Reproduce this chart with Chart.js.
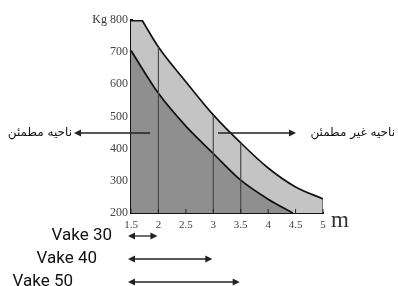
<!DOCTYPE html>
<html>
<head>
<meta charset="utf-8">
<script src="https://cdn.jsdelivr.net/npm/chart.js@4.4.1/dist/chart.umd.min.js"></script>
<style>
  html, body { margin: 0; padding: 0; background: #fff; }
  #wrap { width: 398px; height: 286px; position: relative; }
</style>
</head>
<body>
<div id="wrap"><canvas id="chart"></canvas></div>
<script>
// span in m vs load in Kg
var topX = [1.5, 1.7];
var topY = [800, 800];
var upperX = [1.7, 2, 2.5, 3, 3.5, 4, 4.5, 5];
var upperY = [800, 716, 608, 505, 418, 340, 281, 244];
var lowerX = [1.5, 2, 2.5, 3, 3.5, 4, 4.45];
var lowerY = [705, 572, 470, 385, 302, 243, 200];

// vertical guides drawn up to the upper curve
var guideX = [2, 3, 3.5, 5];

var xTicks = [1.5, 2, 2.5, 3, 3.5, 4, 4.5, 5];
var yTicks = [200, 300, 400, 500, 600, 700, 800];

var vakeLabels = ['Vake 30', 'Vake 40', 'Vake 50'];
var vakeSpan = [2, 3, 3.5];

var safeLabel = 'ناحیه مطمئن';
var unsafeLabel = 'ناحیه غیر مطمئن';

function pts(xs, ys) {
  return xs.map(function (x, i) { return {x: x, y: ys[i]}; });
}

var datasets = [];
guideX.forEach(function (gx) {
  datasets.push({
    data: [{x: gx, y: 200}, {x: gx, y: upperY[upperX.indexOf(gx)]}],
    borderColor: '#4a4a4a',
    borderWidth: 1.2,
    pointRadius: 0,
    fill: false,
    order: 0
  });
});
datasets.push({
  data: pts(lowerX, lowerY),
  borderColor: '#111',
  borderWidth: 1.7,
  backgroundColor: '#8f8f8f',
  pointRadius: 0,
  cubicInterpolationMode: 'monotone',
  fill: 'start',
  order: 1
});
datasets.push({
  data: pts(upperX, upperY),
  borderColor: '#111',
  borderWidth: 1.7,
  backgroundColor: '#c4c4c4',
  pointRadius: 0,
  cubicInterpolationMode: 'monotone',
  fill: 'start',
  order: 2
});
datasets.push({
  data: pts(topX, topY),
  borderColor: '#111',
  borderWidth: 3,
  backgroundColor: '#c4c4c4',
  pointRadius: 0,
  fill: 'start',
  order: 3
});

function arrowHead(ctx, x, y, dir) {
  ctx.beginPath();
  ctx.moveTo(x, y);
  ctx.lineTo(x - dir * 7, y - 3.5);
  ctx.lineTo(x - dir * 7, y + 3.5);
  ctx.closePath();
  ctx.fill();
}

var extras = {
  id: 'extras',
  afterDraw: function (chart) {
    var ctx = chart.ctx;
    var xs = chart.scales.x, ys = chart.scales.y;
    var area = chart.chartArea;
    ctx.save();
    // small inner ticks on x axis
    ctx.strokeStyle = '#222';
    ctx.lineWidth = 1;
    xTicks.forEach(function (t) {
      var px = xs.getPixelForValue(t);
      ctx.beginPath();
      ctx.moveTo(px, area.bottom);
      ctx.lineTo(px, area.bottom - 4);
      ctx.stroke();
    });

    ctx.fillStyle = '#333';
    ctx.font = '12px "Liberation Serif"';
    ctx.textAlign = 'right';
    ctx.textBaseline = 'middle';
    ctx.fillText('Kg', 107, ys.getPixelForValue(800));
    ctx.textAlign = 'left';
    ctx.font = '23px "Liberation Serif"';
    ctx.fillText('m', 331, 221);

    // zone arrows
    var ay = 133;
    ctx.strokeStyle = '#222';
    ctx.fillStyle = '#222';
    ctx.lineWidth = 1.3;
    ctx.beginPath();
    ctx.moveTo(150, ay); ctx.lineTo(80, ay);
    ctx.moveTo(218, ay); ctx.lineTo(290, ay);
    ctx.stroke();
    arrowHead(ctx, 74, ay, -1);
    arrowHead(ctx, 296, ay, 1);

    ctx.fillStyle = '#111';
    ctx.font = '12px "DejaVu Sans"';
    ctx.textBaseline = 'middle';
    ctx.textAlign = 'right';
    ctx.fillText(safeLabel, 72, ay);
    ctx.fillText(unsafeLabel, 395, ay);

    // Vake span arrows
    var rows = [236, 259, 282];
    var x0 = xs.getPixelForValue(1.5) - 3;
    ctx.font = '17px Roboto';
    vakeLabels.forEach(function (lab, i) {
      var y = rows[i];
      var x1 = xs.getPixelForValue(vakeSpan[i]) - 1;
      ctx.fillStyle = '#111';
      ctx.textAlign = 'right';
      ctx.fillText(lab, [112, 97, 73][i], y);
      ctx.strokeStyle = '#222';
      ctx.lineWidth = 1.3;
      ctx.beginPath();
      ctx.moveTo(x0 + 4, y); ctx.lineTo(x1 - 4, y);
      ctx.stroke();
      ctx.fillStyle = '#222';
      arrowHead(ctx, x0, y, -1);
      arrowHead(ctx, x1, y, 1);
    });
    ctx.restore();
  }
};

new Chart(document.getElementById('chart'), {
  type: 'line',
  data: { datasets: datasets },
  options: {
    responsive: true,
    maintainAspectRatio: false,
    animation: false,
    layout: { padding: { top: 20, right: 75, left: 0, bottom: 0 } },
    plugins: { legend: { display: false }, tooltip: { enabled: false } },
    scales: {
      x: {
        type: 'linear',
        min: 1.5,
        max: 5,
        afterFit: function (s) { s.height = 73; },
        afterBuildTicks: function (s) { s.ticks = xTicks.map(function (v) { return {value: v}; }); },
        grid: { display: false, drawTicks: false },
        border: { display: true, color: '#111', width: 2 },
        ticks: {
          padding: 6,
          color: '#444',
          font: { family: 'Liberation Serif', size: 11 },
          callback: function (v) { return String(v); }
        }
      },
      y: {
        min: 200,
        max: 800,
        afterFit: function (s) { s.width = 131; },
        afterBuildTicks: function (s) { s.ticks = yTicks.map(function (v) { return {value: v}; }); },
        grid: { display: false, drawTicks: false },
        border: { display: true, color: '#111', width: 3 },
        ticks: {
          padding: 3,
          color: '#444',
          font: { family: 'Liberation Serif', size: 12 },
          callback: function (v) { return String(v); }
        }
      }
    }
  },
  plugins: [extras]
});
</script>
</body>
</html>
